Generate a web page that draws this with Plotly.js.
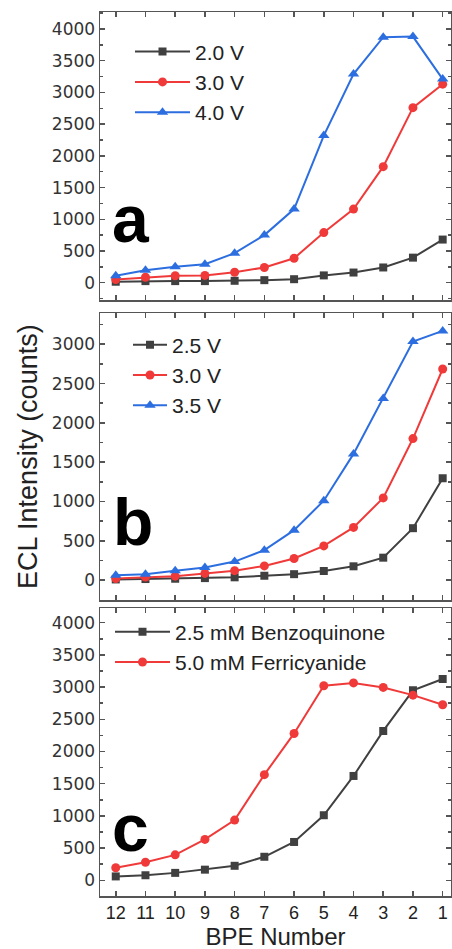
<!DOCTYPE html>
<html><head><meta charset="utf-8">
<script src="https://cdn.plot.ly/plotly-3.0.1.min.js"></script>
<style>html,body{margin:0;padding:0;background:#fff;overflow:hidden;width:452px;height:949px}#chart{width:452px;height:960px}</style>
</head><body><div id="chart"></div>
<script>
const bpe = [12,11,10,9,8,7,6,5,4,3,2,1];
const aNames = ['2.0 V','3.0 V','4.0 V'];
const a20 = [15,25,25,25,30,40,55,115,160,240,395,680];
const a30 = [50,85,110,115,165,240,385,790,1160,1830,2760,3130];
const a40 = [110,195,250,290,465,750,1160,2320,3290,3870,3880,3210];
const bNames = ['2.5 V','3.0 V','3.5 V'];
const b25 = [8,13,17,25,35,55,75,115,175,285,660,1295];
const b30 = [20,38,50,85,120,180,275,435,670,1045,1800,2685];
const b35 = [60,75,120,160,235,380,635,1010,1605,2310,3035,3170];
const cNames = ['2.5 mM Benzoquinone','5.0 mM Ferricyanide'];
const cBQ = [60,78,115,165,225,365,595,1010,1620,2320,2950,3125];
const cFe = [195,280,395,635,935,1640,2280,3020,3065,2995,2875,2725];
const panelLetters = ['a','b','c'];

const BLACK = '#404040', RED = '#f03a3a', BLUE = '#2c6ee0';
const styles = [
  {color: BLACK, symbol: 'square', size: 8},
  {color: RED, symbol: 'circle', size: 9},
  {color: BLUE, symbol: 'triangle-up', size: 10}
];
function tr(x, y, name, st, xa, ya, lg) {
  return {x: x, y: y, name: name, type: 'scatter', mode: 'lines+markers',
    xaxis: xa, yaxis: ya, legend: lg,
    line: {color: st.color, width: 2},
    marker: {color: st.color, symbol: st.symbol, size: st.size}};
}
const data = [
  tr(bpe, a20, aNames[0], styles[0], 'x3', 'y3', 'legend'),
  tr(bpe, a30, aNames[1], styles[1], 'x3', 'y3', 'legend'),
  tr(bpe, a40, aNames[2], styles[2], 'x3', 'y3', 'legend'),
  tr(bpe, b25, bNames[0], styles[0], 'x2', 'y2', 'legend2'),
  tr(bpe, b30, bNames[1], styles[1], 'x2', 'y2', 'legend2'),
  tr(bpe, b35, bNames[2], styles[2], 'x2', 'y2', 'legend2'),
  tr(bpe, cBQ, cNames[0], styles[0], 'x', 'y', 'legend3'),
  tr(bpe, cFe, cNames[1], styles[1], 'x', 'y', 'legend3')
];
const AX = '#555';
function xax(anchor, labels) {
  return {anchor: anchor, range: [12.53, 0.72], tickvals: bpe, ticks: 'inside', ticklen: 5,
    tickwidth: 1.5, tickcolor: AX, showline: true, linecolor: AX, linewidth: 1.5,
    mirror: 'ticks', showgrid: false, zeroline: false, showticklabels: labels,
    tickfont: {family: 'Arial', size: 18, color: '#222'}};
}
function yax(anchor, domain, range) {
  return {anchor: anchor, domain: domain, range: range, tick0: 0, dtick: 500,
    ticks: 'inside', ticklen: 5, tickwidth: 1.5, tickcolor: AX,
    minor: {dtick: 250, ticks: 'inside', ticklen: 3, tickwidth: 1.5, tickcolor: AX},
    showline: true, linecolor: AX, linewidth: 1.5, mirror: 'ticks',
    showgrid: false, zeroline: false,
    tickfont: {family: 'DejaVu Sans', size: 17, color: '#333'}};
}
const legFont = {family: 'Arial', size: 21, color: '#222'};
function leg(x, y, w) {
  return {x: x, y: y, xanchor: 'left', yanchor: 'top', xref: 'paper', yref: 'paper',
    bgcolor: 'rgba(0,0,0,0)', font: legFont, itemwidth: w, tracegroupgap: 0};
}
const letterFont = {family: 'Arial', size: 66, color: '#000', weight: 'bold'};
function letter(t, x, y) {
  return {text: '<b>' + t + '</b>', xref: 'paper', yref: 'paper', x: x, y: y,
    xanchor: 'left', yanchor: 'middle', showarrow: false, font: letterFont};
}
const xa = xax('y', true);
xa.title = {text: 'BPE Number', font: {family: 'Arial', size: 24, color: '#222'}, standoff: 0};
const ya2 = yax('x2', [0.3348, 0.6592], [-254, 3394]);
ya2.title = {text: 'ECL Intensity (counts)', font: {family: 'Arial', size: 27, color: '#222'}, standoff: 6};
const layout = {
  width: 452, height: 960,
  margin: {l: 100, r: 1, t: 12, b: 64},
  paper_bgcolor: '#fff', plot_bgcolor: '#fff',
  showlegend: true,
  xaxis: xa,
  xaxis2: xax('y2', false),
  xaxis3: xax('y3', false),
  yaxis: yax('x', [0, 0.3255], [-244, 4224]),
  yaxis2: ya2,
  yaxis3: yax('x3', [0.6742, 1], [-273, 4268]),
  legend: leg(0.0855, 0.978, 55),
  legend2: leg(0.0798, 0.6465, 34),
  legend3: leg(0.0285, 0.3218, 55),
  annotations: [
    letter(panelLetters[0], 0.028, 0.766),
    letter(panelLetters[1], 0.031, 0.423),
    letter(panelLetters[2], 0.028, 0.077)
  ]
};
Plotly.newPlot('chart', data, layout, {staticPlot: true, displayModeBar: false});
</script></body></html>
